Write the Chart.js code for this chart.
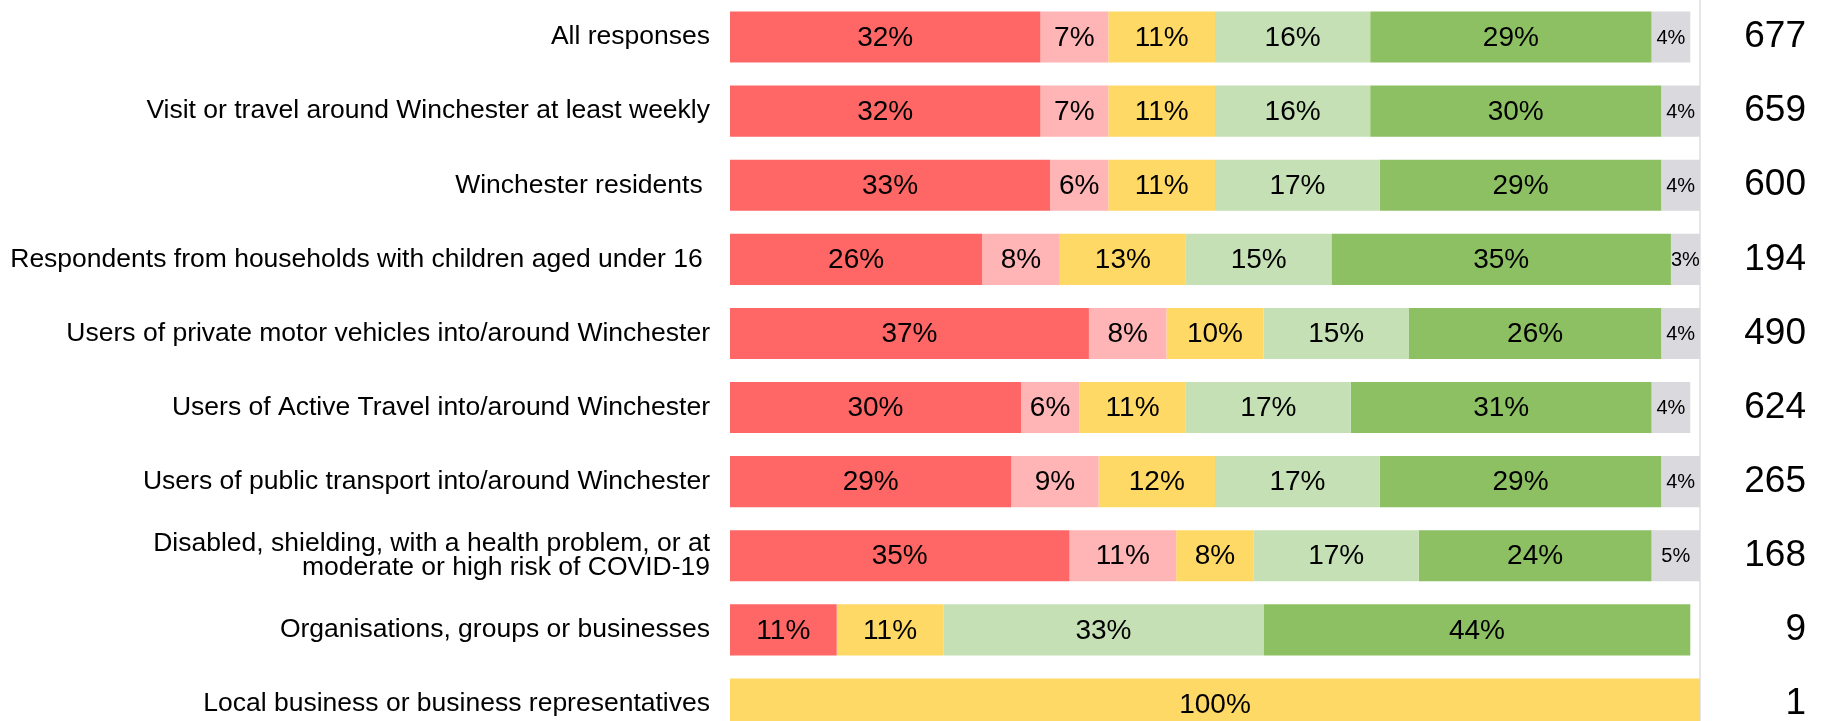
<!DOCTYPE html>
<html>
<head>
<meta charset="utf-8">
<script src="https://cdn.jsdelivr.net/npm/chart.js@4.4.1/dist/chart.umd.min.js"></script>
<style>
  html, body { margin: 0; padding: 0; background: #fff; overflow: hidden; }
  canvas { display: block; }
</style>
</head>
<body>
<canvas id="chartCanvas" width="1833" height="741"></canvas>
<script>
const groups = [
    'All responses',
    'Visit or travel around Winchester at least weekly',
    'Winchester residents ',
    'Respondents from households with children aged under 16 ',
    'Users of private motor vehicles into/around Winchester',
    'Users of Active Travel into/around Winchester',
    'Users of public transport into/around Winchester',
    ['Disabled, shielding, with a health problem, or at', 'moderate or high risk of COVID-19'],
    'Organisations, groups or businesses',
    'Local business or business representatives'
];
const counts = ['677', '659', '600', '194', '490', '624', '265', '168', '9', '1'];

const stronglyOppose  = [32, 32, 33, 26, 37, 30, 29, 35, 11, 0];
const oppose          = [7, 7, 6, 8, 8, 6, 9, 11, 0, 0];
const neutral         = [11, 11, 11, 13, 10, 11, 12, 8, 11, 100];
const support         = [16, 16, 17, 15, 15, 17, 17, 17, 33, 0];
const stronglySupport = [29, 30, 29, 35, 26, 31, 29, 24, 44, 0];
const dontKnow        = [4, 4, 4, 3, 4, 4, 4, 5, 0, 0];

const FONT = '"Liberation Sans", Arial, sans-serif';
const ctx = document.getElementById('chartCanvas').getContext('2d');

// percentage labels inside each segment
const segmentLabels = {
    id: 'segment_labels',
    afterDatasetsDraw: (chart) => {
        const c = chart.ctx;
        c.save();
        c.fillStyle = '#000';
        c.textAlign = 'center';
        c.textBaseline = 'middle';
        chart.data.datasets.forEach((ds, i) => {
            const meta = chart.getDatasetMeta(i);
            c.font = (i === 5 ? '20px ' : '28px ') + FONT;
            meta.data.forEach((bar, j) => {
                const v = ds.data[j];
                if (!v) return;
                c.fillText(v + '%', (bar.x + bar.base) / 2, bar.y + 1);
            });
        });
        c.restore();
    }
};

// faint line at the 100% edge
const edgeLine = {
    id: 'edge_line',
    beforeDatasetsDraw: (chart) => {
        const c = chart.ctx;
        const x = chart.scales.x.getPixelForValue(100);
        c.save();
        c.strokeStyle = '#e6e6e6';
        c.lineWidth = 2;
        c.beginPath();
        c.moveTo(x, chart.chartArea.top);
        c.lineTo(x, chart.chartArea.bottom);
        c.stroke();
        c.restore();
    }
};

const commonBar = { barPercentage: 0.69, categoryPercentage: 1, borderWidth: 0 };

// fixed axis widths, no extra vertical padding from the labels
function fixWidth(w) {
    return (s) => {
        s.width = w;
        s.paddingTop = 0;
        s.paddingBottom = 0;
    };
}

let config = new Chart(ctx, {
    type: 'bar',
    data: {
        labels: groups,
        datasets: [
            { label: 'Strongly oppose', data: stronglyOppose, backgroundColor: '#FF6666', ...commonBar },
            { label: 'Oppose', data: oppose, backgroundColor: '#FFB5B5', ...commonBar },
            { label: 'Neutral', data: neutral, backgroundColor: '#FFD966', ...commonBar },
            { label: 'Support', data: support, backgroundColor: '#C5E0B4', ...commonBar },
            { label: 'Strongly support', data: stronglySupport, backgroundColor: '#8CC063', ...commonBar },
            { label: "Don't know", data: dontKnow, backgroundColor: '#D9D9DE', ...commonBar }
        ]
    },
    options: {
        responsive: false,
        animation: false,
        indexAxis: 'y',
        layout: { padding: { right: 27 } },
        plugins: {
            legend: { display: false },
            tooltip: { enabled: false }
        },
        scales: {
            x: { stacked: true, min: 0, max: 100, display: false },
            y: {
                stacked: true,
                grid: { display: false, drawTicks: false },
                border: { display: false },
                ticks: { padding: 20, color: '#000', font: { family: FONT, size: 26.5, lineHeight: 0.93 } },
                afterFit: fixWidth(730)
            },
            y2: {
                type: 'category',
                labels: counts,
                position: 'right',
                offset: true,
                grid: { display: false, drawTicks: false },
                border: { display: false },
                ticks: { crossAlign: 'far', padding: 0, color: '#000', font: { family: FONT, size: 37 } },
                afterFit: fixWidth(106)
            }
        }
    },
    plugins: [segmentLabels, edgeLine]
});
</script>
</body>
</html>
